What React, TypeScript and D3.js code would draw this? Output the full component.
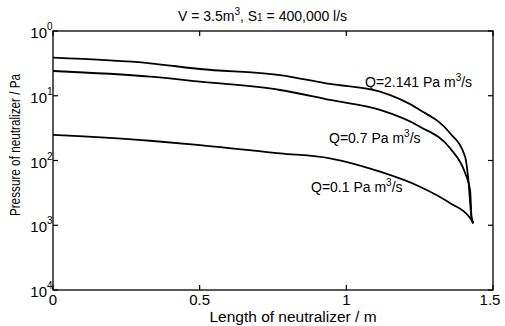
import React from "react";
import * as d3 from "d3";

const xTicks = [0, 0.5, 1, 1.5];
const xTickLabels = ["0", "0.5", "1", "1.5"];
const yTicks = [1, 0.1, 0.01, 0.001, 0.0001];
const yTickExponents = ["0", "1", "2", "3", "4"];

const lengthQ2141 = [0, 0.331, 0.501, 0.774, 0.944, 1.115, 1.251, 1.353, 1.405, 1.415, 1.427, 1.433];
const pressureQ2141 = [0.387, 0.317, 0.259, 0.209, 0.152, 0.1155, 0.0603, 0.0266, 0.01145, 0.00562, 0.00129, 0.00107];

const lengthQ07 = [0, 0.331, 0.501, 0.774, 0.944, 1.115, 1.251, 1.353, 1.405, 1.422, 1.427, 1.433];
const pressureQ07 = [0.241, 0.197, 0.165, 0.1227, 0.086, 0.0603, 0.0333, 0.0156, 0.00641, 0.0035, 0.00129, 0.00107];

const lengthQ01 = [0, 0.331, 0.501, 0.774, 0.944, 1.115, 1.251, 1.353, 1.422, 1.433];
const pressureQ01 = [0.0248, 0.0202, 0.0173, 0.0129, 0.0108, 0.00671, 0.00394, 0.00221, 0.00129, 0.00107];

const seriesLabels = ["Q=2.141 Pa m", "Q=0.7 Pa m", "Q=0.1 Pa m"];

const W = 505, H = 326;
const L = 53, R = 493, T = 31, B = 290;
const FONT = "'Liberation Sans Narrow', 'Liberation Sans', Arial, sans-serif";

export default function App() {
  const x = d3.scaleLinear().domain([0, 1.5]).range([L, R]);
  const y = d3.scaleLog().domain([0.0001, 1]).range([B, T]);
  const line = d3
    .line<[number, number]>()
    .x((d) => x(d[0]))
    .y((d) => y(d[1]))
    .curve(d3.curveMonotoneX);

  const series = [
    { xs: lengthQ2141, ys: pressureQ2141, label: seriesLabels[0], lx: 365, ly: 87 },
    { xs: lengthQ07, ys: pressureQ07, label: seriesLabels[1], lx: 329, ly: 143 },
    { xs: lengthQ01, ys: pressureQ01, label: seriesLabels[2], lx: 311, ly: 192 },
  ];

  const tickLen = 5;

  return (
    <svg
      width={W}
      height={H}
      style={{ position: "absolute", left: 0, top: 0, background: "#fff" }}
      fontFamily={FONT}
    >
      <rect x={0} y={0} width={W} height={H} fill="#fff" />
      {/* frame */}
      <rect x={L} y={T} width={R - L} height={B - T} fill="none" stroke="#000" strokeWidth={1.3} />
      {/* x ticks */}
      {xTicks.map((t, i) => (
        <g key={"xt" + i}>
          <line x1={x(t)} x2={x(t)} y1={B} y2={B - tickLen} stroke="#000" strokeWidth={1.2} />
          <line x1={x(t)} x2={x(t)} y1={T} y2={T + tickLen} stroke="#000" strokeWidth={1.2} />
          <text
            x={i === xTicks.length - 1 ? x(t) - 3 : x(t)}
            y={305}
            fontSize={15}
            textAnchor="middle"
            fill="#000"
          >
            {xTickLabels[i]}
          </text>
        </g>
      ))}
      {/* y ticks */}
      {yTicks.map((t, i) => (
        <g key={"yt" + i}>
          <line x1={L} x2={L + tickLen} y1={y(t)} y2={y(t)} stroke="#000" strokeWidth={1.2} />
          <line x1={R} x2={R - tickLen} y1={y(t)} y2={y(t)} stroke="#000" strokeWidth={1.2} />
          <text x={47} y={y(t) + 7} fontSize={15} textAnchor="end" fill="#000">
            10
          </text>
          <text x={47} y={y(t) - 1} fontSize={10} textAnchor="start" fill="#000">
            {yTickExponents[i]}
          </text>
        </g>
      ))}
      {/* curves */}
      {series.map((s, i) => (
        <path
          key={"s" + i}
          d={line(s.xs.map((v, j) => [v, s.ys[j]] as [number, number])) || ""}
          fill="none"
          stroke="#000"
          strokeWidth={1.8}
        />
      ))}
      {/* series labels */}
      {series.map((s, i) => (
        <text key={"l" + i} x={s.lx} y={s.ly} fontSize={14} fill="#000">
          {s.label}
          <tspan dy={-6} fontSize={10}>3</tspan>
          <tspan dy={6}>/s</tspan>
        </text>
      ))}
      {/* title */}
      <text x={178} y={21} fontSize={14} fill="#000">
        V = 3.5m<tspan dy={-6} fontSize={10}>3</tspan>
        <tspan dy={6}>, S</tspan>
        <tspan fontSize={10}>1</tspan>
        <tspan> = 400,000 l/s</tspan>
      </text>
      {/* axis titles */}
      <text x={293} y={322} fontSize={15.5} textAnchor="middle" fill="#000">
        Length of neutralizer / m
      </text>
      <text
        transform={`translate(20,145) rotate(-90) scale(0.84,1)`}
        fontSize={14}
        textAnchor="middle"
        fill="#000"
      >
        Pressure of neutralizer / Pa
      </text>
    </svg>
  );
}
